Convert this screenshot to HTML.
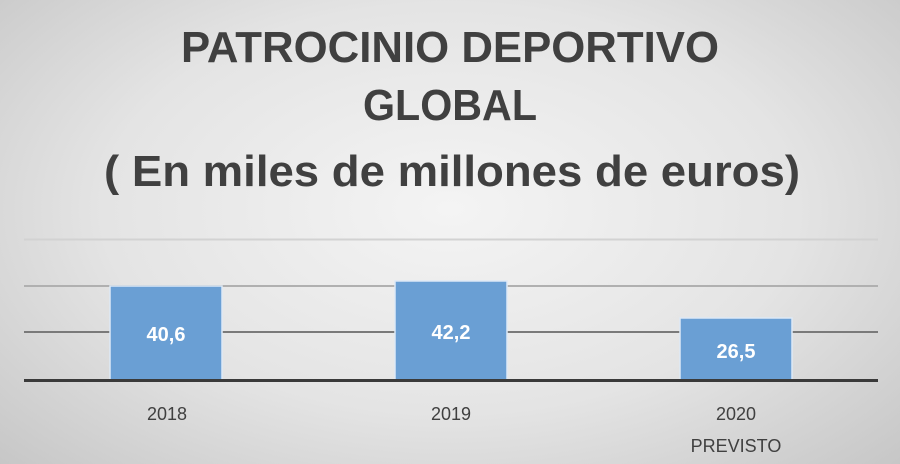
<!DOCTYPE html>
<html><head><style>
html,body{margin:0;padding:0;}
body{width:900px;height:464px;overflow:hidden;background:radial-gradient(ellipse 70% 80% at 50% 45%,#f4f4f4 0%,#e4e4e4 55%,#c6c6c6 100%);}
svg{position:absolute;left:0;top:0;}
</style></head><body>
<svg width="900" height="464" font-family="'Liberation Sans',sans-serif">
<g fill="#404040" font-weight="bold" font-size="44" text-anchor="middle">
<text x="450" y="62" textLength="538" lengthAdjust="spacingAndGlyphs">PATROCINIO DEPORTIVO</text>
<text x="450" y="120" textLength="174" lengthAdjust="spacingAndGlyphs">GLOBAL</text>
<text x="452" y="186" textLength="696" lengthAdjust="spacingAndGlyphs">( En miles de millones de euros)</text>
</g>
<line x1="24" y1="239.5" x2="878" y2="239.5" stroke="#d2d2d2" stroke-width="2"/>
<line x1="24" y1="286" x2="878" y2="286" stroke="#b0b0b0" stroke-width="2"/>
<line x1="24" y1="332" x2="878" y2="332" stroke="#7a7a7a" stroke-width="2"/>
<g fill="#6a9fd4" stroke="#dde9f6" stroke-width="1.5">
<rect x="110" y="286" width="112" height="94"/>
<rect x="395" y="281" width="112" height="99"/>
<rect x="680" y="318" width="112" height="62"/>
</g>
<line x1="24" y1="380.5" x2="878" y2="380.5" stroke="#3a3a3a" stroke-width="3"/>
<g fill="#fff" font-weight="bold" font-size="20" text-anchor="middle">
<text x="166" y="341">40,6</text>
<text x="451" y="339">42,2</text>
<text x="736" y="358">26,5</text>
</g>
<g fill="#404040" font-size="18" text-anchor="middle">
<text x="167" y="420">2018</text>
<text x="451" y="420">2019</text>
<text x="736" y="420">2020</text>
<text x="736" y="452">PREVISTO</text>
</g>
</svg>
</body></html>
